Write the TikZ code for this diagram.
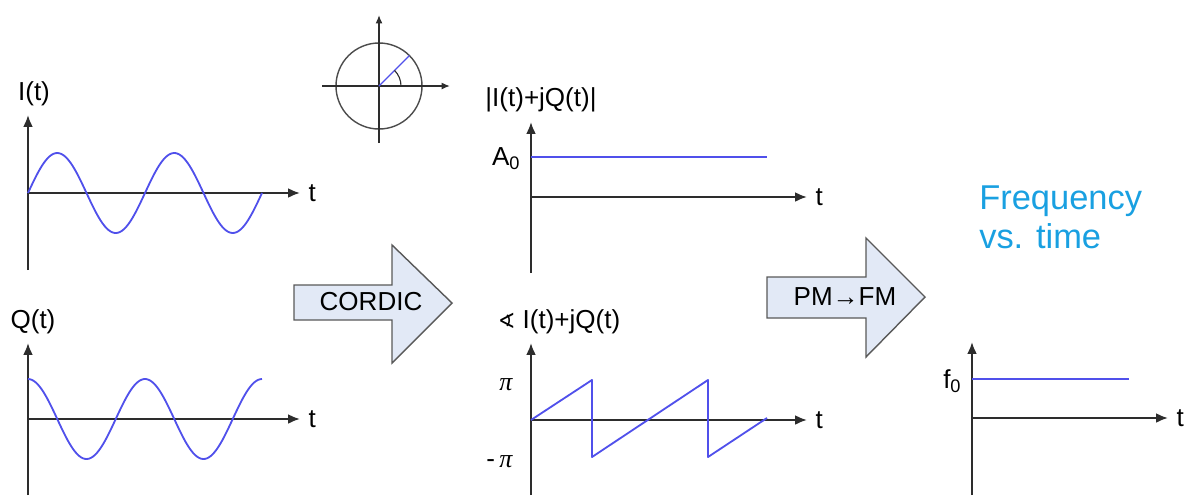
\documentclass[tikz,border=0pt]{standalone}
\usepackage{fontspec}
\setmainfont{Liberation Sans}
\newfontfamily\anglefont{DejaVu Sans}
\newfontfamily\greekfont{Liberation Serif}
\usepackage{xcolor}
\usetikzlibrary{positioning,arrows.meta,calc}
\definecolor{wave}{RGB}{80,80,235}
\definecolor{axisc}{RGB}{45,45,45}
\definecolor{arrowfill}{RGB}{226,233,246}
\definecolor{freqblue}{RGB}{25,160,225}

\begin{document}
\begin{tikzpicture}[
  x=0.025cm,y=-0.025cm,
  ax/.style={-{Latex[length=8.5pt,width=7pt]},line width=1.4pt,draw=axisc},
  smallax/.style={-{Latex[length=6pt,width=5pt]},line width=1.1pt,draw=axisc},
  sig/.style={draw=wave,line width=1.3pt,line join=round},
  lbl/.style={font=\fontsize{18.5}{22}\selectfont,inner sep=1pt},
  big/.style={font=\fontsize{24.5}{28}\selectfont,text=freqblue,inner sep=0pt,anchor=base west},
  blockarrow/.style={draw=black!65,fill=arrowfill,line width=1pt,line join=miter},
]
  \useasboundingbox (0,0) rectangle (1190,495);
  % I(t) input (top left)
  \coordinate (Iorg) at (28,193);
  \coordinate (Ix) at (300,193);
  \draw[ax] (28,270) -- (28,115);
  \draw[ax] (Iorg) -- (Ix);
  \draw[sig] plot[domain=0:234,samples=120] ({28+\x},{193-40*sin(3.077*\x)});
  \node[lbl] (Ilbl) at (34,94) {I(t)};
  \node[lbl,right=5pt of Ix] (It) {t};
  % Q(t) input (bottom left)
  \coordinate (Qorg) at (28,419);
  \coordinate (Qx) at (300,419);
  \draw[ax] (28,495) -- (28,343);
  \draw[ax] (Qorg) -- (Qx);
  \draw[sig] plot[domain=0:234,samples=120] ({28+\x},{419-40*cos(3.077*\x)});
  \node[lbl] (Qlbl) at (33,322) {Q(t)};
  \node[lbl,right=5pt of Qx] (Qt) {t};
  % unit circle sketch
  \coordinate (O) at (379,86);
  \draw[line width=1pt,black!70] (O) circle[radius=1.075cm];
  \draw[smallax] (322,86) -- (450,86);
  \draw[smallax] (379,143) -- (379,15);
  \draw[wave,line width=0.9pt] (O) -- ++(45:1.075cm);
  \draw[axisc,line width=0.8pt] ($(O)+(0.55cm,0)$) arc[start angle=0,end angle=45,radius=0.55cm];
  % CORDIC block arrow
  \draw[blockarrow] (294,285) -- (392,285) -- (392,245) -- (452,303) -- (392,363) -- (392,320) -- (294,320) -- cycle;
  \node[lbl] (cordic) at (371,302) {CORDIC};
  % magnitude output
  \coordinate (Morg) at (531,197);
  \coordinate (Mx) at (807,197);
  \draw[ax] (531,273) -- (531,122);
  \draw[ax] (Morg) -- (Mx);
  \draw[sig] (531,157) -- (767,157);
  \node[lbl] (Mlbl) at (541,100) {|I(t)+jQ(t)|};
  \node[lbl,anchor=base east] (A0) at (522,165) {A\textsubscript{0}};
  \node[lbl,right=5pt of Mx] (Mt) {t};
  % phase output
  \coordinate (Porg) at (531,420);
  \coordinate (Px) at (807,420);
  \draw[ax] (531,495) -- (531,343);
  \draw[ax] (Porg) -- (Px);
  \draw[sig] (Porg) -- (592,380) -- (592,457) -- (708,380) -- (708,457) -- (767,418);
  \node[lbl] (Plbl) at (559,322) {{\anglefont\fontsize{15}{18}\selectfont ∢} I(t)+jQ(t)};
  \node[lbl,anchor=base east] (pi) at (514,390) {{\greekfont\itshape π}};
  \node[lbl,anchor=base east] (mpi) at (514,467) {-\,{\greekfont\itshape π}};
  \node[lbl,right=5pt of Px] (Pt) {t};
  % PM->FM block arrow
  \draw[blockarrow] (767,277) -- (866,277) -- (866,238) -- (925,297) -- (866,357) -- (866,318) -- (767,318) -- cycle;
  \node[lbl] (pmfm) at (845,297) {PM→FM};
  % frequency output
  \coordinate (Forg) at (972,418);
  \coordinate (Fx) at (1168,418);
  \draw[ax] (972,495) -- (972,342);
  \draw[ax] (Forg) -- (Fx);
  \draw[sig] (972,379) -- (1129,379);
  \node[lbl,anchor=base east] (f0) at (963,388) {f\textsubscript{0}};
  \node[lbl,right=5pt of Fx] (Ft) {t};
  \node[big] (freq1) at (979,209) {Frequency};
  \node[big] (freq2) at (979,248) {vs. time};
\end{tikzpicture}
\end{document}
